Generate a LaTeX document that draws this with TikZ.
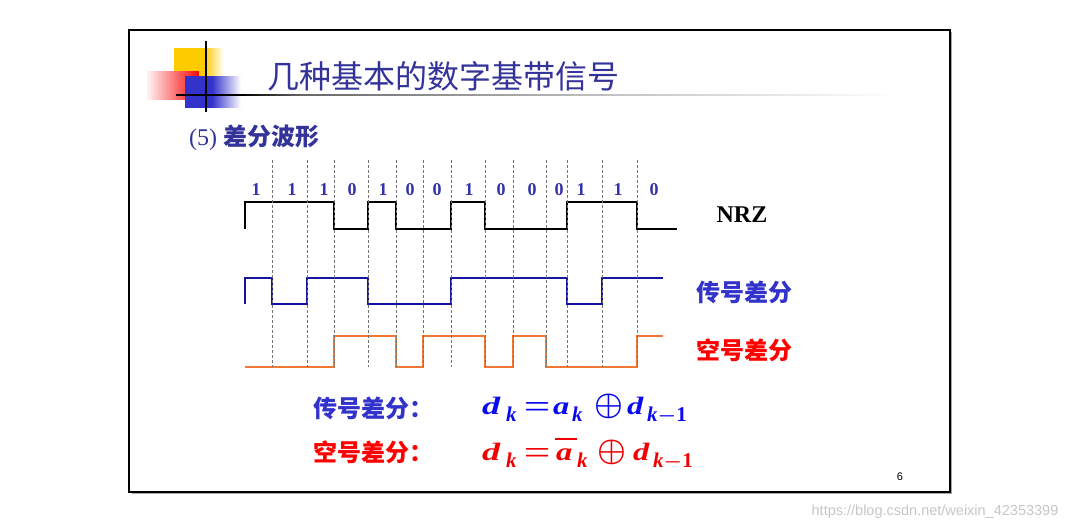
\documentclass[tikz,border=0pt]{standalone}
\usepackage{fontspec}
\usepackage{amsmath}
\usepackage{graphicx}
\setmainfont{Liberation Serif}
\setsansfont{Liberation Sans}
\newfontfamily\cjk{Noto Sans CJK SC}
\newcommand\pc[2]{\makebox[#1][l]{#2}}
\newcommand\sbk[1]{\raisebox{-7pt}{\fontsize{21}{21}\selectfont #1}}
\newcommand\beq{\scalebox{1.2}[1.25]{\ensuremath{\boldsymbol{=}}}}
\newcommand\bop{\scalebox{1.3}{\ensuremath{\boldsymbol{\oplus}}}}
\newcommand\kmo{\sbk{k\ensuremath{\boldsymbol{-}}\textup{1}}}
\newcommand\formA{\pc{24pt}{\scalebox{1.45}[1]{d}}\pc{18pt}{\sbk{k}}\pc{29pt}{\beq}\pc{19pt}{\scalebox{1.3}[1]{a}}\pc{22pt}{\sbk{k}}\pc{33pt}{\bop}\pc{20pt}{\scalebox{1.3}[1]{d}}\kmo}
\newcommand\formB{\pc{24pt}{\scalebox{1.45}[1]{d}}\pc{18pt}{\sbk{k}}\pc{29pt}{\beq}\pc{24pt}{\rlap{\hspace{2pt}\raisebox{20pt}{\rule{22pt}{1.8pt}}}\hspace{3pt}\scalebox{1.3}[1]{a}}\pc{20pt}{\sbk{k}}\pc{36pt}{\bop}\pc{20pt}{\scalebox{1.3}[1]{d}}\kmo}
\definecolor{titleblue}{RGB}{51,51,153}
\definecolor{bitblue}{RGB}{51,51,170}
\definecolor{lblblue}{RGB}{51,51,204}
\definecolor{wblue}{RGB}{20,20,160}
\definecolor{worange}{RGB}{240,120,50}
\definecolor{fblue}{RGB}{10,10,240}
\definecolor{fred}{RGB}{240,0,0}
\definecolor{logoY}{RGB}{255,204,0}
\definecolor{logoB}{RGB}{51,51,204}
\definecolor{logoR}{RGB}{255,10,10}
\begin{document}
\begin{tikzpicture}[x=1pt,y=-1pt,
  wave/.style={line width=1.6pt, line join=miter},
  gridline/.style={line width=0.6pt, black!55, dash pattern=on 3pt off 2pt},
  bitlbl/.style={font=\fontsize{18}{18}\selectfont\bfseries, text=bitblue, inner sep=0},
  cjklbl/.style={font=\cjk\bfseries\fontsize{24}{24}\selectfont, inner sep=0},
  formulabox/.style={font=\fontsize{25}{25}\selectfont\bfseries\itshape, inner sep=0}]
\useasboundingbox (0,0) rectangle (1080,530);
\fill[white] (0,0) rectangle (1080,530);
% frame
\draw[black!35, line width=1pt] (131.5,493.5) -- (951.5,493.5) -- (951.5,32);
\draw[black, line width=1.6pt] (129,30) rectangle (950,492);
% logo: yellow
\fill[logoY] (174,48) rectangle (204.3,76);
\foreach \i in {0,...,19} {
  \pgfmathtruncatemacro\p{100-5*\i}
  \fill[logoY!\p!white] ({204+\i},48) rectangle ({205.3+\i},76);
}
% logo: red
\foreach \i in {0,...,25} {
  \pgfmathtruncatemacro\p{6+94*\i/25}
  \fill[logoR!\p!white] ({147+2*\i},71) rectangle ({149.3+2*\i},100);
}
% logo: blue
\fill[logoB] (185,76) rectangle (212.3,108);
\foreach \i in {0,...,29} {
  \pgfmathtruncatemacro\p{100-100*\i/29}
  \fill[logoB!\p!white] ({212+\i},76) rectangle ({213.3+\i},108);
}
% title rule
\fill[black] (176,93.8) rectangle (240.3,96.3);
\foreach \i in {0,...,11} {
  \pgfmathtruncatemacro\p{100-40*\i/12}
  \fill[black!\p!white] ({240+5*\i},93.8) rectangle ({245.3+5*\i},96.3);
}
\foreach \i in {0,...,59} {
  \pgfmathtruncatemacro\p{60-35*\i/60}
  \fill[black!\p!white] ({300+5*\i},93.8) rectangle ({305.3+5*\i},96.3);
}
\foreach \i in {0,...,59} {
  \pgfmathtruncatemacro\p{25-25*\i/60}
  \fill[black!\p!white] ({600+5*\i},93.8) rectangle ({605.3+5*\i},96.3);
}
\fill[black] (205,41) rectangle (207.2,112);
% title
\node[inner sep=0, text=titleblue, font=\cjk\fontsize{32}{32}\selectfont] (title) at (443,76) {几种基本的数字基带信号};
\node[inner sep=0, text=titleblue, anchor=west] (sub) at (189,138) {\fontsize{24}{24}\selectfont (5) {\cjk\bfseries 差分波形}};
% bit labels
\foreach \x/\b [count=\i] in {256/1,292/1,324/1,352/0,383/1,410/0,437/0,469/1,501/0,532/0,559/0,581/1,618/1,654/0}
  \node[bitlbl] (bit\i) at (\x,190) {\b};
% waveforms
\draw[wave, black] (245,229) |- (334,202) |- (368,229) |- (396,202) |- (451,229) |- (485,202) |- (567,229) |- (637,202) |- (677,229);
\draw[wave, wblue] (245,304) |- (272,278) |- (307,304) |- (368,278) |- (451,304) |- (567,278) |- (602,304) |- (663,278);
\draw[wave, worange] (245,367) -- (334,367) |- (396,336) |- (423,367) |- (485,336) |- (513,367) |- (546,336) |- (637,367) |- (663,336);
% dashed grid
\foreach \x in {272,307,334,368,396,423,451,485,513,546,567,602,637}
  \draw[gridline] (\x,160) -- (\x,367);
% right labels
\node[inner sep=0, font=\fontsize{24}{24}\selectfont\bfseries] (nrz) at (742,215) {NRZ};
\node[cjklbl, text=lblblue] (mark) at (744,292) {传号差分};
\node[cjklbl, text=red] (space) at (744,350) {空号差分};
% formulas
\node[cjklbl, text=lblblue, anchor=west] (fl1) at (313,408) {传号差分：};
\node[cjklbl, text=red, anchor=west] (fl2) at (313,452) {空号差分：};
\node[formulabox, text=fblue, anchor=base west] (f1) at (482,414) {\formA};
\node[formulabox, text=fred, anchor=base west] (f2) at (482,460) {\formB};
% page number and watermark
\node[inner sep=0, font=\sffamily\fontsize{11}{11}\selectfont] (pg) at (900,477) {6};
\node[inner sep=0, font=\sffamily\fontsize{14.5}{14.5}\selectfont, text=black!22] (wm) at (935,512) {https://blog.csdn.net/weixin\_42353399};
\end{tikzpicture}
\end{document}
